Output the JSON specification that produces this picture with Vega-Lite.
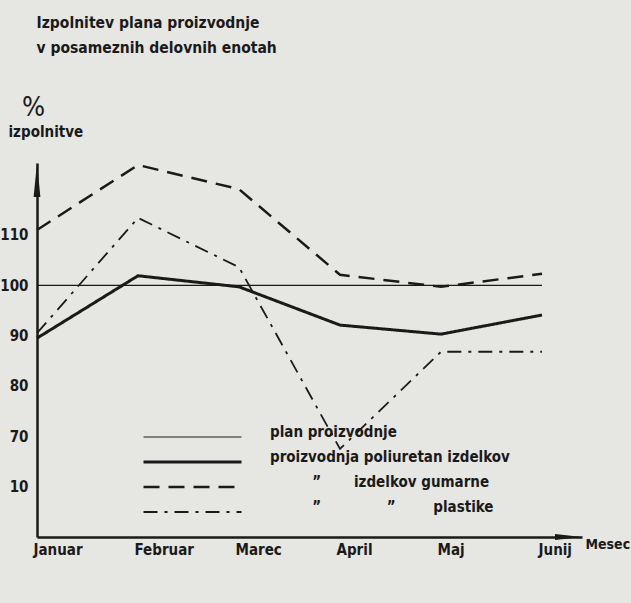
{
  "$schema": "https://vega.github.io/schema/vega-lite/v6.json",
  "width": 545,
  "height": 374,
  "autosize": {"type": "none"},
  "padding": {"left": 37, "top": 163, "right": 49, "bottom": 66},
  "background": "#e6e6e3",
  "config": {
    "view": {"stroke": null},
    "font": "DejaVu Sans Condensed, sans-serif"
  },
  "title": {
    "text": ["\u200b\u00a0\u00a0\u00a0Izpolnitev plana proizvodnje", "\u200b\u00a0\u00a0\u00a0v posameznih delovnih enotah"],
    "subtitle": "%",
    "anchor": "start",
    "frame": "group",
    "dx": -15,
    "offset": 3,
    "font": "DejaVu Sans Condensed, sans-serif",
    "fontSize": 15.5,
    "fontWeight": "bold",
    "color": "#1a1a1a",
    "lineHeight": 25,
    "subtitleFont": "DejaVu Sans Condensed, sans-serif",
    "subtitleFontSize": 27,
    "subtitleColor": "#1a1a1a",
    "subtitlePadding": 39
  },
  "data": {
    "values": [
      {"month": "Januar", "series": "plan proizvodnje", "value": 100},
      {"month": "Februar", "series": "plan proizvodnje", "value": 100},
      {"month": "Marec", "series": "plan proizvodnje", "value": 100},
      {"month": "April", "series": "plan proizvodnje", "value": 100},
      {"month": "Maj", "series": "plan proizvodnje", "value": 100},
      {"month": "Junij", "series": "plan proizvodnje", "value": 100},
      {"month": "Januar", "series": "proizvodnja poliuretan izdelkov", "value": 89.5},
      {"month": "Februar", "series": "proizvodnja poliuretan izdelkov", "value": 101.9},
      {"month": "Marec", "series": "proizvodnja poliuretan izdelkov", "value": 99.7},
      {"month": "April", "series": "proizvodnja poliuretan izdelkov", "value": 92.1},
      {"month": "Maj", "series": "proizvodnja poliuretan izdelkov", "value": 90.3},
      {"month": "Junij", "series": "proizvodnja poliuretan izdelkov", "value": 94.1},
      {"month": "Januar", "series": "izdelkov gumarne", "value": 111.0},
      {"month": "Februar", "series": "izdelkov gumarne", "value": 123.9},
      {"month": "Marec", "series": "izdelkov gumarne", "value": 119.1},
      {"month": "April", "series": "izdelkov gumarne", "value": 102.1},
      {"month": "Maj", "series": "izdelkov gumarne", "value": 99.7},
      {"month": "Junij", "series": "izdelkov gumarne", "value": 102.3},
      {"month": "Januar", "series": "plastike", "value": 90.5},
      {"month": "Februar", "series": "plastike", "value": 113.4},
      {"month": "Marec", "series": "plastike", "value": 103.6},
      {"month": "April", "series": "plastike", "value": 67.5},
      {"month": "Maj", "series": "plastike", "value": 86.8},
      {"month": "Junij", "series": "plastike", "value": 86.8}
    ]
  },
  "layer": [
    {
      "mark": {"type": "line", "color": "#1a1a1a", "strokeCap": "butt", "strokeJoin": "miter"},
      "encoding": {
        "x": {
          "field": "month",
          "type": "ordinal",
          "sort": ["Januar", "Februar", "Marec", "April", "Maj", "Junij"],
          "scale": {"type": "point", "padding": 0.198, "align": 0},
          "axis": {
            "title": "Mesec",
            "titleX": 548,
            "titleY": 11,
            "titleAlign": "left",
            "titleBaseline": "alphabetic",
            "titleFontSize": 14,
            "titleFontWeight": "bold",
            "titleColor": "#1a1a1a",
            "labelAngle": 0,
            "labelAlign": "left",
            "labelBaseline": "top",
            "labelPadding": 5,
            "labelOffset": -4,
            "labelFontSize": 15,
            "labelFontWeight": "bold",
            "labelColor": "#1a1a1a",
            "ticks": false,
            "grid": false,
            "domainWidth": 2.5,
            "domainColor": "#1a1a1a"
          }
        },
        "y": {
          "field": "value",
          "type": "quantitative",
          "scale": {"domain": [50, 124.3], "nice": false, "zero": false},
          "axis": {
            "values": [60, 70, 80, 90, 100, 110],
            "labelExpr": "datum.value == 60 ? '10' : datum.label",
            "title": "izpolnitve",
            "titleAngle": 0,
            "titleX": -29,
            "titleY": -27,
            "titleAlign": "left",
            "titleBaseline": "alphabetic",
            "titleFontSize": 15,
            "titleFontWeight": "bold",
            "titleColor": "#1a1a1a",
            "labelFontSize": 15,
            "labelFontWeight": "bold",
            "labelColor": "#1a1a1a",
            "labelPadding": 9,
            "ticks": false,
            "grid": false,
            "domainWidth": 2.5,
            "domainColor": "#1a1a1a"
          }
        },
        "detail": {"field": "series"},
        "strokeDash": {
          "field": "series",
          "type": "nominal",
          "scale": {
            "domain": ["plan proizvodnje", "proizvodnja poliuretan izdelkov", "izdelkov gumarne", "plastike"],
            "range": [[1, 0], [1, 0], [16, 9], [14, 7, 3, 7]]
          },
          "legend": {
            "title": null,
            "orient": "none",
            "legendX": 105,
            "legendY": 262,
            "padding": 0,
            "symbolType": "stroke",
            "symbolSize": 9604,
            "symbolStrokeColor": "#1a1a1a",
            "clipHeight": 24,
            "rowPadding": 1,
            "labelOffset": 27,
            "labelBaseline": "alphabetic",
            "labelFontSize": 15,
            "labelFontWeight": "bold",
            "labelColor": "#1a1a1a",
            "labelLimit": 0,
            "labelExpr": "datum.label == 'izdelkov gumarne' ? '\u200b\u00a0\u00a0\u00a0\u00a0\u00a0\u00a0\u00a0\u00a0\u00a0\u201d\u00a0\u00a0\u00a0\u00a0\u00a0\u00a0\u00a0izdelkov gumarne' : datum.label == 'plastike' ? '\u200b\u00a0\u00a0\u00a0\u00a0\u00a0\u00a0\u00a0\u00a0\u00a0\u201d\u00a0\u00a0\u00a0\u00a0\u00a0\u00a0\u00a0\u00a0\u00a0\u00a0\u00a0\u00a0\u00a0\u00a0\u201d\u00a0\u00a0\u00a0\u00a0\u00a0\u00a0\u00a0\u00a0plastike' : datum.label"
          }
        },
        "strokeWidth": {
          "field": "series",
          "type": "nominal",
          "scale": {
            "type": "ordinal",
            "domain": ["plan proizvodnje", "proizvodnja poliuretan izdelkov", "izdelkov gumarne", "plastike"],
            "range": [1.2, 3, 2.5, 1.8]
          }
        }
      }
    },
    {
      "data": {"values": [{}]},
      "mark": {"type": "point", "filled": true, "color": "#1a1a1a", "opacity": 1, "size": 1156, "shape": "M0,0L0.2,2L-0.2,2Z"},
      "encoding": {
        "x": {"datum": "Januar", "type": "ordinal"},
        "y": {"datum": 124.3, "type": "quantitative"}
      }
    },
    {
      "data": {"values": [{}]},
      "mark": {"type": "point", "filled": true, "color": "#1a1a1a", "opacity": 1, "size": 1600, "shape": "M2,0L0.65,-0.15L0.65,0.15Z"},
      "encoding": {
        "x": {"datum": "Junij", "type": "ordinal"},
        "y": {"datum": 50, "type": "quantitative"}
      }
    }
  ]
}
